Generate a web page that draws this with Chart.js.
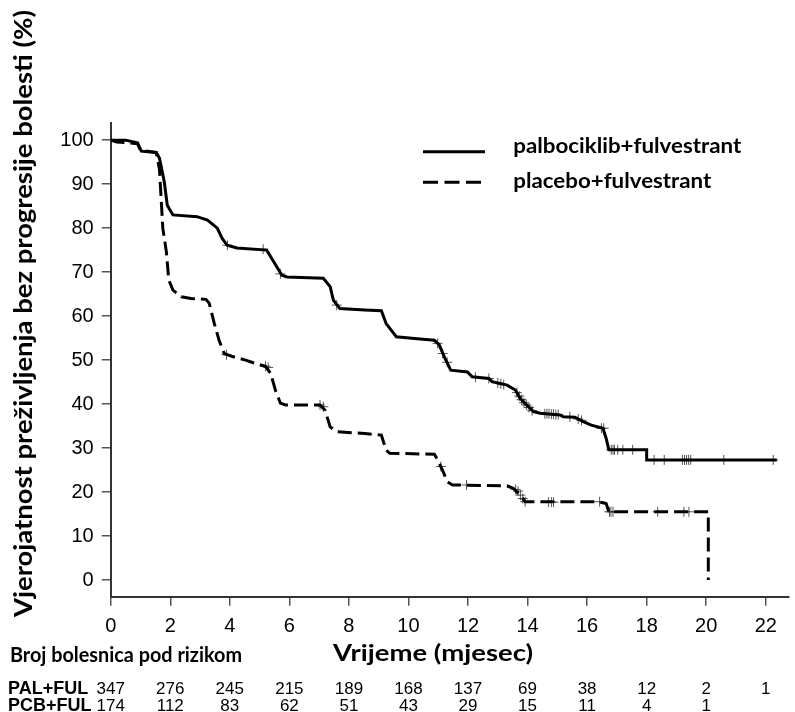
<!DOCTYPE html>
<html>
<head>
<meta charset="utf-8">
<script src="https://cdn.jsdelivr.net/npm/chart.js@4.4.1/dist/chart.umd.min.js"></script>
<style>
  html, body { margin: 0; padding: 0; background: #fff; }
  #wrap { width: 795px; height: 712px; position: relative; }
</style>
</head>
<body>
<div id="wrap"><canvas id="kmChart"></canvas></div>
<script>
// Kaplan-Meier curves (months, % progression-free)
const palTime = [0, 0.5, 0.9, 1.03, 1.53, 1.64, 1.8, 1.9, 2.09, 2.9, 3.25, 3.58, 3.74, 3.91, 4.24, 5.24, 5.48, 5.75, 5.92, 7.14, 7.37, 7.48, 7.7, 8.53, 9.09, 9.25, 9.42, 9.59, 10.2, 10.87, 11.03, 11.2, 11.42, 11.98, 12.14, 12.7, 12.81, 13.31, 13.59, 13.75, 14.03, 14.2, 14.42, 15.09, 15.2, 15.59, 15.87, 16.14, 16.53, 16.64, 16.73, 18.0, 18.0, 22.37];
const palSurv = [100, 100, 99.4, 97.5, 97.2, 95.9, 90.5, 85.2, 83, 82.6, 81.8, 80, 77.7, 76.1, 75.5, 75, 72.3, 69.3, 68.9, 68.6, 66.7, 63.6, 61.7, 61.4, 61.2, 58.3, 56.8, 55.3, 54.9, 54.5, 53.5, 50.8, 47.7, 47.3, 46.2, 45.8, 45.1, 44.3, 43.2, 41.3, 39.4, 38.3, 37.9, 37.5, 37.1, 37, 36, 35.2, 34.5, 32.2, 29.6, 29.6, 27.3, 27.3];

const pcbTime = [0, 0.2, 0.9, 1.0, 1.53, 1.64, 1.7, 1.75, 1.87, 1.95, 2.09, 2.37, 2.7, 3.2, 3.31, 3.48, 3.64, 3.81, 4.09, 4.53, 4.87, 5.2, 5.37, 5.53, 5.7, 5.87, 7.03, 7.2, 7.37, 7.59, 8.53, 9.09, 9.25, 9.37, 10.87, 10.98, 11.14, 11.31, 11.48, 13.31, 13.53, 13.75, 13.92, 16.35, 16.64, 16.73, 20.07, 20.07];
const pcbSurv = [100, 99.6, 99.2, 97.7, 97.2, 93.2, 86, 80, 74.6, 68.2, 65.9, 64.4, 64, 63.8, 62.9, 58.3, 54.5, 51.5, 50.8, 50, 49.2, 48.6, 47, 43.2, 40.2, 39.8, 39.8, 38.6, 34.8, 33.7, 33.3, 32.95, 29.5, 28.8, 28.6, 27.3, 25, 22.3, 21.6, 21.4, 20.8, 19.3, 17.8, 17.8, 17.4, 15.5, 15.5, 0];

// censored observations (+ marks)
const palCensTime = [3.92, 5.12, 5.7, 7.59, 10.98, 11.15, 11.3, 12.25, 12.7, 13.0, 13.1, 13.2, 13.64, 13.72, 13.8, 13.88, 13.96, 14.05, 14.15, 14.58, 14.65, 14.72, 14.8, 14.87, 14.95, 15.03, 15.42, 15.7, 15.81, 16.48, 16.56, 16.81, 16.87, 16.92, 17.03, 17.2, 17.53, 18.25, 18.59, 19.2, 19.27, 19.34, 19.41, 19.48, 20.59, 22.25];
const palCensSurv = [76.1, 75.2, 69.6, 62.5, 53.8, 51.5, 49.5, 46.1, 45.8, 44.8, 44.6, 44.4, 42.6, 41.8, 41.0, 40.3, 39.8, 39.2, 38.5, 37.8, 37.8, 37.8, 37.7, 37.7, 37.6, 37.6, 37.1, 36.6, 36.3, 34.5, 34.5, 29.6, 29.6, 29.6, 29.6, 29.6, 29.6, 27.3, 27.3, 27.3, 27.3, 27.3, 27.3, 27.3, 27.3, 27.3];
const pcbCensTime = [3.89, 5.2, 5.29, 7.03, 7.14, 11.09, 11.95, 13.6, 13.68, 13.76, 13.84, 13.92, 14.7, 14.8, 14.87, 16.42, 16.75, 16.8, 16.87, 18.37, 19.25, 19.42];
const pcbCensSurv = [51.2, 48.6, 48.3, 39.8, 39.4, 25.8, 21.6, 20.6, 20.2, 19.3, 18.5, 17.8, 17.7, 17.7, 17.7, 17.8, 15.5, 15.5, 15.5, 15.5, 15.5, 15.5];

const xTicks = [0, 2, 4, 6, 8, 10, 12, 14, 16, 18, 20, 22];
const yTicks = [0, 10, 20, 30, 40, 50, 60, 70, 80, 90, 100];

// number at risk
const riskMonths = [0, 2, 4, 6, 8, 10, 12, 14, 16, 18, 20, 22];
const palRisk = [347, 276, 245, 215, 189, 168, 137, 69, 38, 12, 2, 1];
const pcbRisk = [174, 112, 83, 62, 51, 43, 29, 15, 11, 4, 1];

const seriesNames = ['palbociklib+fulvestrant', 'placebo+fulvestrant'];
const rowNames = ['PAL+FUL', 'PCB+FUL'];

const pts = (xs, ys) => xs.map((x, i) => ({ x: x, y: ys[i] }));

// draw text at a given font size, squeezed/stretched to a target width
function drawFitted(ctx, text, x, y, size, width, align) {
    ctx.save();
    ctx.font = 'bold ' + size + 'px Lato';
    const w = ctx.measureText(text).width;
    ctx.translate(x, y);
    ctx.scale(width / w, 1);
    ctx.textAlign = align;
    ctx.fillText(text, 0, 0);
    ctx.restore();
}

const extras = {
    id: 'extras',
    afterDraw(chart) {
        const ctx = chart.ctx;
        const xs = chart.scales.x;
        ctx.save();
        ctx.fillStyle = '#000';
        ctx.textBaseline = 'alphabetic';

        // y title
        ctx.save();
        ctx.translate(32, 313.5);
        ctx.rotate(-Math.PI / 2);
        drawFitted(ctx, 'Vjerojatnost preživljenja bez progresije bolesti (%)', 0, 0, 25, 607, 'center');
        ctx.restore();

        // x title
        drawFitted(ctx, 'Vrijeme (mjesec)', 433, 661, 23.5, 200, 'center');

        // risk table
        drawFitted(ctx, 'Broj bolesnica pod rizikom', 10, 661.5, 20, 232, 'left');

        ctx.textAlign = 'left';
        ctx.font = 'bold 18px "Liberation Sans"';
        ctx.fillText(rowNames[0], 8, 693.5);
        ctx.fillText(rowNames[1], 8, 711);
        ctx.font = '17px "Liberation Sans"';
        ctx.textAlign = 'center';
        palRisk.forEach((n, i) => ctx.fillText(String(n), xs.getPixelForValue(riskMonths[i]), 693.5));
        pcbRisk.forEach((n, i) => ctx.fillText(String(n), xs.getPixelForValue(riskMonths[i]), 711));

        // legend
        ctx.strokeStyle = '#000';
        ctx.lineWidth = 3;
        ctx.beginPath();
        ctx.moveTo(423, 151.7);
        ctx.lineTo(485, 151.7);
        ctx.stroke();
        ctx.setLineDash([15, 6.5]);
        ctx.beginPath();
        ctx.moveTo(423, 182.3);
        ctx.lineTo(485, 182.3);
        ctx.stroke();
        ctx.setLineDash([]);
        drawFitted(ctx, seriesNames[0], 513.3, 153.3, 20.5, 228, 'left');
        drawFitted(ctx, seriesNames[1], 513.3, 188.3, 20.5, 198, 'left');
        ctx.restore();
    }
};

const ctx = document.getElementById('kmChart').getContext('2d');
const kmChart = new Chart(ctx, {
    type: 'scatter',
    data: {
        datasets: [
            {
                label: seriesNames[0],
                data: pts(palTime, palSurv),
                showLine: true,
                borderColor: '#000',
                borderWidth: 3,
                pointRadius: 0,
                tension: 0,
                fill: false
            },
            {
                label: seriesNames[1],
                data: pts(pcbTime, pcbSurv),
                showLine: true,
                borderColor: '#000',
                borderWidth: 3,
                borderDash: [14, 6],
                pointRadius: 0,
                tension: 0,
                fill: false
            },
            {
                label: 'censored PAL',
                data: pts(palCensTime, palCensSurv),
                showLine: false,
                pointStyle: 'cross',
                pointRadius: 5,
                pointBorderWidth: 1,
                borderColor: 'rgba(30,30,30,0.75)'
            },
            {
                label: 'censored PCB',
                data: pts(pcbCensTime, pcbCensSurv),
                showLine: false,
                pointStyle: 'cross',
                pointRadius: 5,
                pointBorderWidth: 1,
                borderColor: 'rgba(30,30,30,0.75)'
            }
        ]
    },
    options: {
        responsive: true,
        maintainAspectRatio: false,
        animation: false,
        devicePixelRatio: 1,
        layout: { padding: { top: 123, right: 1, bottom: 0, left: 0 } },
        scales: {
            x: {
                type: 'linear',
                min: 0,
                max: 22.78,
                afterBuildTicks: s => { s.ticks = xTicks.map(v => ({ value: v })); },
                afterFit: s => { s.height = 115.3; },
                grid: { drawOnChartArea: false, drawTicks: true, tickLength: 9, color: '#555', lineWidth: 1.5 },
                border: { color: '#333', width: 2 },
                ticks: { color: '#000', padding: 9, maxRotation: 0, font: { family: 'Liberation Sans', size: 20 } }
            },
            y: {
                min: -3.8,
                max: 103.9,
                afterBuildTicks: s => { s.ticks = yTicks.map(v => ({ value: v })); },
                afterFit: s => { s.width = 110.7; },
                grid: { drawOnChartArea: false, drawTicks: true, tickLength: 9, color: '#555', lineWidth: 1.5 },
                border: { color: '#333', width: 2 },
                ticks: { color: '#000', padding: 8, font: { family: 'Liberation Sans', size: 20 } }
            }
        },
        plugins: {
            legend: { display: false },
            tooltip: { enabled: false }
        }
    },
    plugins: [extras]
});
</script>
</body>
</html>
